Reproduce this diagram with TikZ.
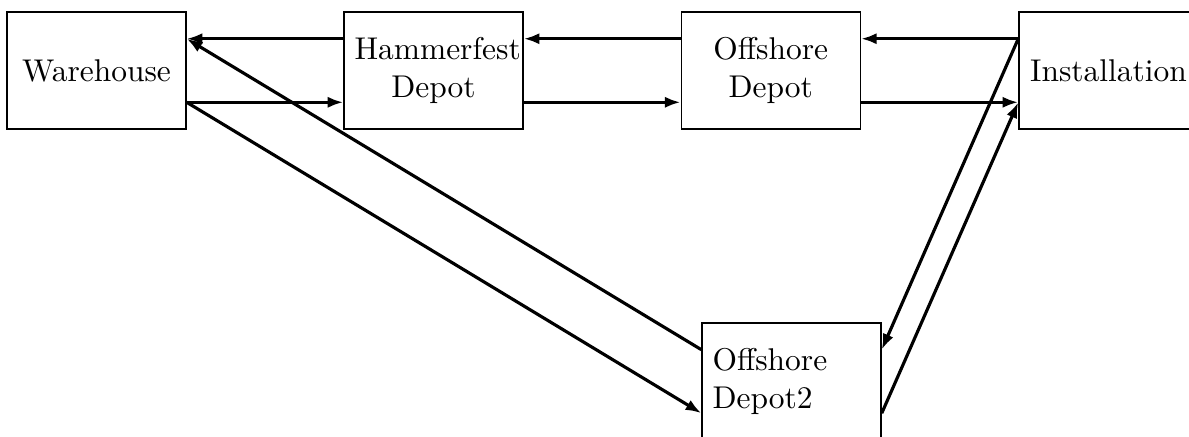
\documentclass[tikz,border=0pt]{standalone}
\usetikzlibrary{arrows.meta}
\begin{document}
\begin{tikzpicture}[
  place/.style={draw, line width=0.45pt, minimum width=2cm, minimum height=1.307cm,
    text width=2cm-0.6667em, inner sep=0.3333em, align=center},
  flow/.style={line width=1pt, -{Latex[length=5pt,width=3.6pt]}},
  up/.style={yshift=0.355cm},
  down/.style={yshift=-0.355cm}
]
\useasboundingbox (0,0) rectangle (13.285,4.872);

\node[place] (wh)  at (1.078,4.084)  {Warehouse};
\node[place] (hd)  at (4.844,4.084)  {Hammerfest\\Depot};
\node[place] (od)  at (8.612,4.084)  {Offshore\\Depot};
\node[place] (ins) at (12.385,4.084) {Installation};
\node[place, align=left] (od2) at (8.844,0.610) {Offshore\\Depot2};

% upper lane: flows back towards the warehouse
\draw[flow] ([up]hd.west)  -- ([up]wh.east);
\draw[flow] ([up]od.west)  -- ([up]hd.east);
\draw[flow] ([up]ins.west) -- ([up]od.east);

% lower lane: flows out towards the installation
\draw[flow] ([down]wh.east) -- ([down]hd.west);
\draw[flow] ([down]hd.east) -- ([down]od.west);
\draw[flow] ([down]od.east) -- ([down]ins.west);

% route through the second offshore depot
\draw[flow] ([up]od2.west)   -- ([up]wh.east);
\draw[flow] ([down]wh.east)  -- ([down]od2.west);
\draw[flow] ([up]ins.west)   -- ([up]od2.east);
\draw[flow] ([down]od2.east) -- ([down]ins.west);
\end{tikzpicture}
\end{document}
